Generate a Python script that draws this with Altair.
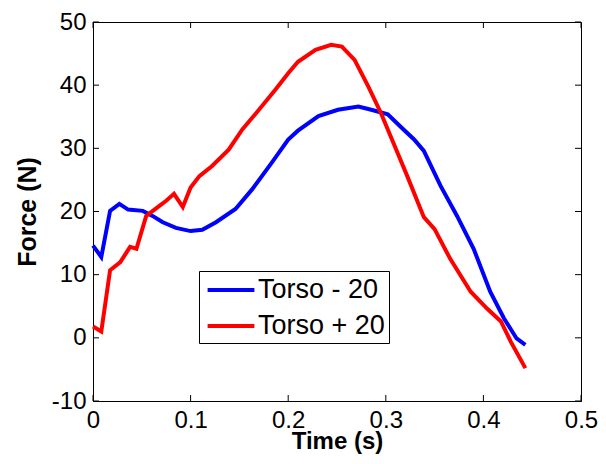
import altair as alt
import pandas as pd

t_blue = [0, 0.0085, 0.0175, 0.027, 0.036, 0.051, 0.061, 0.0715, 0.085, 0.1, 0.112, 0.126,
          0.146, 0.163, 0.183, 0.2, 0.21, 0.231, 0.251, 0.272, 0.285, 0.302, 0.316, 0.329,
          0.339, 0.356, 0.373, 0.39, 0.407, 0.421, 0.434, 0.443]
y_blue = [14.6, 12.8, 20.1, 21.2, 20.3, 20.1, 19.3, 18.3, 17.4, 16.9, 17.1, 18.3,
          20.4, 23.5, 27.7, 31.4, 32.8, 35.1, 36.1, 36.6, 36.1, 35.4, 33.3, 31.4,
          29.6, 24.1, 19.3, 14.1, 7.3, 3.1, -0.1, -1.1]

t_red = [0, 0.0085, 0.0175, 0.028, 0.038, 0.0445, 0.0545, 0.068, 0.075, 0.083, 0.092, 0.1,
         0.109, 0.122, 0.139, 0.153, 0.17, 0.187, 0.2, 0.21, 0.228, 0.244, 0.255, 0.268,
         0.282, 0.295, 0.309, 0.322, 0.333, 0.339, 0.35, 0.366, 0.387, 0.404, 0.418, 0.428, 0.443]
y_red = [1.8, 1.0, 10.7, 12.0, 14.4, 14.1, 19.3, 20.9, 21.7, 22.8, 20.7, 23.8,
         25.6, 27.2, 29.8, 33.0, 36.1, 39.3, 41.9, 43.7, 45.6, 46.4, 46.1, 44.0,
         39.8, 35.6, 30.4, 25.6, 21.4, 19.1, 17.2, 12.5, 7.3, 4.6, 2.6, -0.6, -4.8]

series = ["Torso - 20", "Torso + 20"]
colors = ["#0000ff", "#ff0000"]
x_ticks = [0, 0.1, 0.2, 0.3, 0.4, 0.5]
y_ticks = [-10, 0, 10, 20, 30, 40, 50]

df = pd.concat([
    pd.DataFrame({"t": t_blue, "f": y_blue, "s": series[0]}),
    pd.DataFrame({"t": t_red, "f": y_red, "s": series[1]}),
])
xt = pd.DataFrame({"t": x_ticks})
yt = pd.DataFrame({"f": y_ticks})

W, H = 488, 379
xs = alt.Scale(domain=[0, 0.5], nice=False, zero=False)
ys = alt.Scale(domain=[-10, 50], nice=False, zero=False)

x_axis = alt.Axis(
    title="Time (s)", values=x_ticks, format="~g", grid=False, ticks=False, tickSize=0,
    labelFontSize=24, labelPadding=7, labelFlush=False, labelColor="black",
    domainColor="black", titleFontSize=24, titleFontWeight="bold", titleColor="black",
    titleX=W / 2, titleY=40, titleBaseline="middle")
y_axis = alt.Axis(
    title="Force (N)", values=y_ticks, labelExpr="'' + datum.value", grid=False,
    ticks=False, tickSize=0, labelFontSize=24, labelPadding=7, labelFlush=False,
    labelColor="black", domainColor="black", titleFontSize=25, titleFontWeight="bold",
    titleColor="black", titleX=-66, titleY=H / 2, titleBaseline="middle")

lines = alt.Chart(df).mark_line(strokeWidth=4).encode(
    x=alt.X("t:Q", scale=xs, axis=x_axis),
    y=alt.Y("f:Q", scale=ys, axis=y_axis),
    color=alt.Color("s:N", scale=alt.Scale(domain=series, range=colors), legend=alt.Legend(
        title=None, orient="none", legendX=106, legendY=249, strokeColor="black",
        fillColor="white", padding=4, symbolType="M-1.8,0H1.8", symbolSize=676,
        symbolStrokeWidth=4, symbolOffset=13, labelFontSize=27, labelOffset=12, rowPadding=8,
        labelColor="black", labelLimit=300)),
)

tick_style = dict(color="black", strokeWidth=1)
left = alt.Chart(yt).mark_rule(**tick_style).encode(
    y=alt.Y("f:Q", scale=ys, axis=y_axis), x=alt.value(0), x2=alt.value(6))
right = alt.Chart(yt).mark_rule(**tick_style).encode(
    y=alt.Y("f:Q", scale=ys, axis=y_axis), x=alt.value(W - 6), x2=alt.value(W))
bottom = alt.Chart(xt).mark_rule(**tick_style).encode(
    x=alt.X("t:Q", scale=xs, axis=x_axis), y=alt.value(H), y2=alt.value(H - 6))
top = alt.Chart(xt).mark_rule(**tick_style).encode(
    x=alt.X("t:Q", scale=xs, axis=x_axis), y=alt.value(0), y2=alt.value(6))

chart = alt.layer(lines, left, right, bottom, top).properties(
    width=W, height=H,
    autosize=alt.AutoSizeParams(type="none"),
    padding={"left": 85, "top": 14, "right": 17, "bottom": 55},
).configure(font="Liberation Sans").configure_view(stroke="black", strokeWidth=1)

chart.save("out.html", embed_options={"renderer": "svg", "actions": False})
